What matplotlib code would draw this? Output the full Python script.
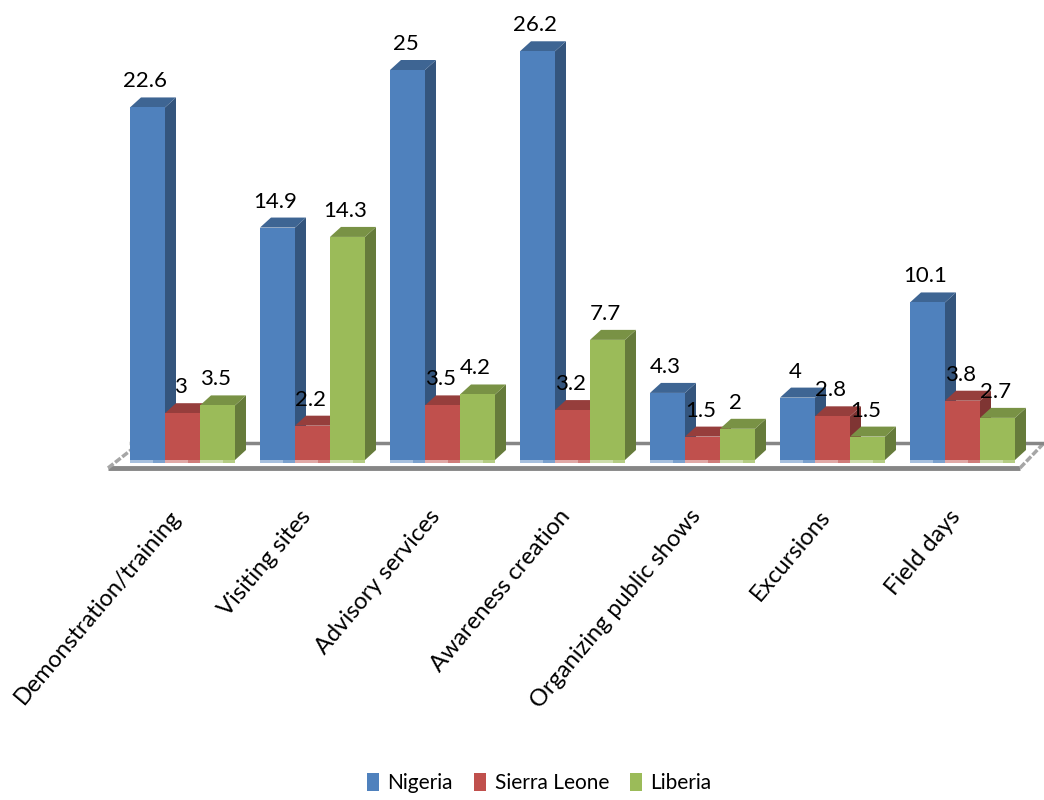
import matplotlib
matplotlib.use("Agg")
import matplotlib.pyplot as plt
from matplotlib.patches import Polygon, Patch
from matplotlib.colors import to_rgb
import numpy as np

categories = ["Demonstration/training", "Visiting sites", "Advisory services", "Awareness creation",
              "Organizing public shows", "Excursions", "Field days"]
nigeria = [22.6, 14.9, 25, 26.2, 4.3, 4, 10.1]
sierra_leone = [3, 2.2, 3.5, 3.2, 1.5, 2.8, 3.8]
liberia = [3.5, 14.3, 4.2, 7.7, 2, 1.5, 2.7]
series = [("Nigeria", nigeria, "#4f81bd"), ("Sierra Leone", sierra_leone, "#c0504d"), ("Liberia", liberia, "#9bbb59")]

plt.rcParams['font.family'] = ['Lato', 'DejaVu Sans']

W, H = 1044, 800
fig = plt.figure(figsize=(W/100, H/100), dpi=100)
ax = fig.add_axes([0, 0, 1, 1])

# one group is 130 px wide, one value unit is 15.6 px
ppx = 130.0
ppy = 15.6
x0_px, y0_px = 182.5, 460
ax.set_xlim(-x0_px/ppx, (W-x0_px)/ppx)
ax.set_ylim(-(H-y0_px)/ppy, y0_px/ppy)
ax.axis("off")

bw = 35/ppx
dx = 11/ppx
dy = 10/ppy

def shade(c, f):
    return tuple(np.array(to_rgb(c))*f)

def tint(c, f):
    return tuple(np.array(to_rgb(c))*(1-f)+f)

# floor of the chart
floor = "#868686"
fl = -8/ppy
ax.plot([(108-x0_px)/ppx, (1020-x0_px)/ppx], [fl, fl], color=floor, lw=3.5, solid_capstyle="butt", zorder=1)
ax.plot([(108-x0_px)/ppx, (131-x0_px)/ppx], [fl, 10/ppy], color="#a6a6a6", lw=2.5, ls=(0, (2, 0.6)), zorder=1)
ax.plot([(1020-x0_px)/ppx, (1044-x0_px)/ppx], [fl, 17/ppy], color="#a6a6a6", lw=2.5, ls=(0, (2, 0.6)), zorder=1)
ax.plot([(131-x0_px)/ppx, (1044-x0_px)/ppx], [17/ppy, 17/ppy], color=floor, lw=2.5, zorder=1)

xs = np.arange(len(categories))
# drawn left to right so the sides are overlapped like in 3D
for i in xs:
    for j, (name, vals, col) in enumerate(series):
        left = i + (j-1.5)*bw
        v = vals[i]
        ax.add_patch(Polygon([(left+bw, 0), (left+bw+dx, dy), (left+bw+dx, v+dy), (left+bw, v)],
                             facecolor=shade(col, 0.66), edgecolor="none", zorder=2+i+j*0.1))
        ax.add_patch(Polygon([(left, v), (left+dx, v+dy), (left+bw+dx, v+dy), (left+bw, v)],
                             facecolor=shade(col, 0.78), edgecolor="none", zorder=2+i+j*0.1))
        ax.bar(left, v, width=bw, align="edge", color=col, zorder=2.05+i+j*0.1)
        # light strip at the foot of every bar
        ax.bar(left, -3/ppy, width=bw, align="edge", color=tint(col, 0.25), zorder=2.05+i+j*0.1)
        ax.bar(left, -3/ppy, width=bw*0.66, align="edge", color=tint(col, 0.5), zorder=2.06+i+j*0.1)
        ax.text(left+bw/2-2/ppx, v+dy+6/ppy, str(v), ha="center", va="bottom", fontsize=16, color="black", zorder=30)

for i, cat in enumerate(categories):
    ax.text(i-14/ppx, -46/ppy, cat, rotation=50, rotation_mode="anchor", ha="right", va="top",
            fontsize=17, color="black")

handles = [Patch(facecolor=c, label=n) for n, v, c in series]
fig.legend(handles=handles, loc="lower left", bbox_to_anchor=(352/W, -0.010), ncol=3, frameon=False,
           fontsize=15, handlelength=0.6, handleheight=0.95, handletextpad=0.4, columnspacing=1.0,
           borderaxespad=0.3)

fig.savefig("out.png", dpi=100)
